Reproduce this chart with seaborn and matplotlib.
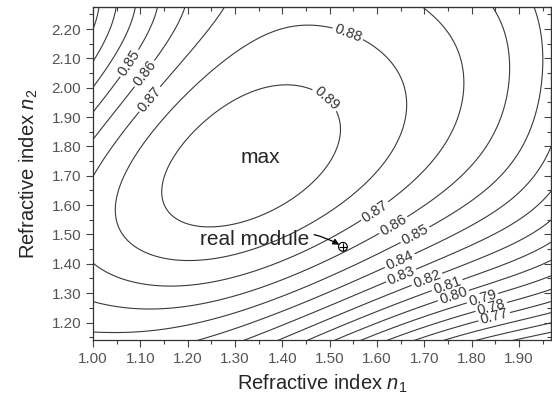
import numpy as np
import matplotlib
matplotlib.use('Agg')
import matplotlib.pyplot as plt
import seaborn as sns
from matplotlib.ticker import MultipleLocator, FormatStrFormatter

# contour traces (n1, n2 for each level)
n1_089 = [1.163, 1.211, 1.262, 1.359, 1.410, 1.459, 1.490, 1.522, 1.512, 1.465, 1.395, 1.290, 1.205, 1.152, 1.146]
n2_089 = [1.731, 1.846, 1.915, 2.003, 2.017, 2.010, 1.959, 1.863, 1.788, 1.686, 1.574, 1.516, 1.509, 1.560, 1.618]
n1_088 = [1.072, 1.106, 1.156, 1.211, 1.283, 1.353, 1.438, 1.500, 1.539, 1.579, 1.638, 1.662, 1.655, 1.628, 1.579, 1.459, 1.395, 1.290, 1.184, 1.099, 1.051, 1.047]
n2_088 = [1.686, 1.812, 1.901, 1.993, 2.085, 2.164, 2.201, 2.200, 2.187, 2.164, 2.095, 1.969, 1.891, 1.788, 1.686, 1.550, 1.506, 1.465, 1.448, 1.482, 1.533, 1.618]
n1_087 = [1.000, 1.114, 1.152, 1.249, 1.691, 1.755, 1.772, 1.772, 1.755, 1.712, 1.677, 1.596, 1.459, 1.395, 1.326, 1.211, 1.099, 1.000]
n2_087 = [1.686, 1.969, 2.034, 2.276, 2.276, 2.146, 2.027, 1.959, 1.823, 1.703, 1.652, 1.577, 1.475, 1.445, 1.379, 1.318, 1.297, 1.379]
n1_086 = [1.000, 1.104, 1.165, 1.833, 1.860, 1.865, 1.860, 1.839, 1.793, 1.634, 1.522, 1.395, 1.226, 1.106, 1.000]
n2_086 = [1.816, 2.054, 2.276, 2.276, 2.095, 2.044, 1.925, 1.788, 1.652, 1.533, 1.424, 1.352, 1.243, 1.223, 1.257]
n1_085 = [1.000, 1.072, 1.123, 1.939, 1.951, 1.951, 1.939, 1.882, 1.677, 1.522, 1.395, 1.226, 1.101, 1.000]
n2_085 = [1.932, 2.089, 2.276, 2.276, 2.164, 2.106, 1.874, 1.686, 1.509, 1.379, 1.277, 1.192, 1.165, 1.182]
n1_084 = [1.000, 1.095, 1.968, 1.909, 1.649, 1.395, 1.184]
n2_084 = [2.027, 2.276, 1.782, 1.652, 1.407, 1.233, 1.141]
n1_083 = [1.000, 1.059, 1.968, 1.653, 1.395, 1.296]
n2_083 = [2.112, 2.276, 1.676, 1.352, 1.175, 1.141]
n1_082 = [1.000, 1.027, 1.968, 1.706, 1.381]
n2_082 = [2.204, 2.276, 1.574, 1.345, 1.141]
n1_081 = [1.968, 1.748, 1.455]
n2_081 = [1.488, 1.328, 1.141]
n1_080 = [1.968, 1.761, 1.516]
n2_080 = [1.424, 1.294, 1.141]
n1_079 = [1.968, 1.575]
n2_079 = [1.362, 1.141]
n1_078 = [1.968, 1.645]
n2_078 = [1.311, 1.141]
n1_077 = [1.968, 1.698]
n2_077 = [1.267, 1.141]
n1_076 = [1.968, 1.751]
n2_076 = [1.219, 1.141]
n1_075 = [1.968, 1.803]
n2_075 = [1.182, 1.141]
n1_074 = [1.860]
n2_074 = [1.141]
n1_073 = [1.913]
n2_073 = [1.141]

traces = [
    (0.89, n1_089, n2_089), (0.88, n1_088, n2_088), (0.87, n1_087, n2_087),
    (0.86, n1_086, n2_086), (0.85, n1_085, n2_085), (0.84, n1_084, n2_084),
    (0.83, n1_083, n2_083), (0.82, n1_082, n2_082), (0.81, n1_081, n2_081),
    (0.80, n1_080, n2_080), (0.79, n1_079, n2_079), (0.78, n1_078, n2_078),
    (0.77, n1_077, n2_077), (0.76, n1_076, n2_076), (0.75, n1_075, n2_075),
    (0.74, n1_074, n2_074), (0.73, n1_073, n2_073),
]

plain_levels = [0.70, 0.71, 0.72, 0.73, 0.74, 0.75, 0.76]
label_levels = [0.89, 0.88, 0.87, 0.86, 0.85, 0.84, 0.83, 0.82, 0.81, 0.80, 0.79, 0.78, 0.77]
label_spots = [
    [(1.490, 1.959)],
    [(1.539, 2.187)],
    [(1.114, 1.969), (1.596, 1.577)],
    [(1.104, 2.054), (1.634, 1.533)],
    [(1.072, 2.089), (1.677, 1.509)],
    [(1.649, 1.407)],
    [(1.653, 1.352)],
    [(1.706, 1.345)],
    [(1.748, 1.328)],
    [(1.761, 1.294)],
    [(1.822, 1.287)],
    [(1.839, 1.267)],
    [(1.844, 1.243)],
]

real_n1 = 1.528
real_n2 = 1.458
max_n1, max_n2 = 1.353, 1.762


def design(x, y, deg=5):
    u = (np.asarray(x) - 1.5) / 0.5
    v = (np.asarray(y) - 1.7) / 0.6
    cols = [u**i * v**j for i in range(deg + 1) for j in range(deg + 1 - i)]
    return np.stack(cols, axis=-1)


# smooth surface through the traced contours, inner rings weighted more
px = np.concatenate([t[1] for t in traces])
py = np.concatenate([t[2] for t in traces])
pz = np.concatenate([[t[0]] * len(t[1]) for t in traces])
pw = np.where(pz >= 0.885, 5.0, np.where(pz >= 0.875, 3.0, 1.0))
coef, *_ = np.linalg.lstsq(design(px, py) * pw[:, None], pz * pw, rcond=None)

g1 = np.linspace(1.0, 1.97, 300)
g2 = np.linspace(1.13, 2.28, 300)
G1, G2 = np.meshgrid(g1, g2)
Z = design(G1, G2) @ coef

sns.set_style('ticks')
plt.rcParams['font.family'] = ['Liberation Sans', 'DejaVu Sans']
plt.rcParams['mathtext.fontset'] = 'custom'
plt.rcParams['mathtext.it'] = 'Liberation Sans:italic'
plt.rcParams['mathtext.rm'] = 'Liberation Sans'

fig = plt.figure(figsize=(5.52, 4.0), dpi=100)
ax = fig.add_axes([0.1685, 0.149, 0.830, 0.834])

line_kw = dict(colors='#3a3a3a', linewidths=0.8)
ax.contour(G1, G2, Z, levels=plain_levels, **line_kw)
for lev, spots in zip(label_levels, label_spots):
    cs = ax.contour(G1, G2, Z, levels=[lev], **line_kw)
    ax.clabel(cs, manual=spots, fmt='%.2f', fontsize=10.5,
              inline=True, inline_spacing=2, colors='#333333')

ax.text(max_n1, max_n2, 'max', ha='center', va='center', fontsize=15)
ax.annotate('real module', xy=(real_n1, real_n2), xytext=(1.342, 1.482),
            ha='center', va='center', fontsize=15,
            arrowprops=dict(arrowstyle='-|>', color='k', lw=0.9, mutation_scale=9,
                            connectionstyle='arc3,rad=-0.25', shrinkA=1, shrinkB=3))
sns.scatterplot(x=[real_n1], y=[real_n2], marker='o', s=40, facecolor='none',
                edgecolor='k', linewidth=0.8, ax=ax, zorder=5)
sns.scatterplot(x=[real_n1], y=[real_n2], marker='+', s=30, color='k',
                linewidth=0.8, ax=ax, zorder=5)

ax.set_xlim(1.0, 1.968)
ax.set_ylim(1.139, 2.276)
for axis in (ax.xaxis, ax.yaxis):
    axis.set_major_locator(MultipleLocator(0.1))
    axis.set_minor_locator(MultipleLocator(0.05))
    axis.set_major_formatter(FormatStrFormatter('%.2f'))
ax.tick_params(which='major', direction='out', length=5, width=0.8,
               labelsize=11, labelcolor='#555555', color='#444444')
ax.tick_params(which='minor', direction='out', length=3, width=0.8, color='#444444')

secx = ax.secondary_xaxis('top')
secy = ax.secondary_yaxis('right')
for sec, axis in ((secx, secx.xaxis), (secy, secy.yaxis)):
    axis.set_major_locator(MultipleLocator(0.1))
    axis.set_minor_locator(MultipleLocator(0.05))
    sec.tick_params(which='major', direction='in', length=5, width=0.8, color='#444444',
                    labeltop=False, labelright=False)
    sec.tick_params(which='minor', direction='in', length=3, width=0.8, color='#444444')

for sp in ax.spines.values():
    sp.set_linewidth(0.9)
    sp.set_color('#333333')

ax.set_xlabel(r'Refractive index $n_1$', fontsize=14.5, labelpad=5)
ax.set_ylabel(r'Refractive index $n_2$', fontsize=14.5, labelpad=8)

fig.savefig('out.png', dpi=100)
